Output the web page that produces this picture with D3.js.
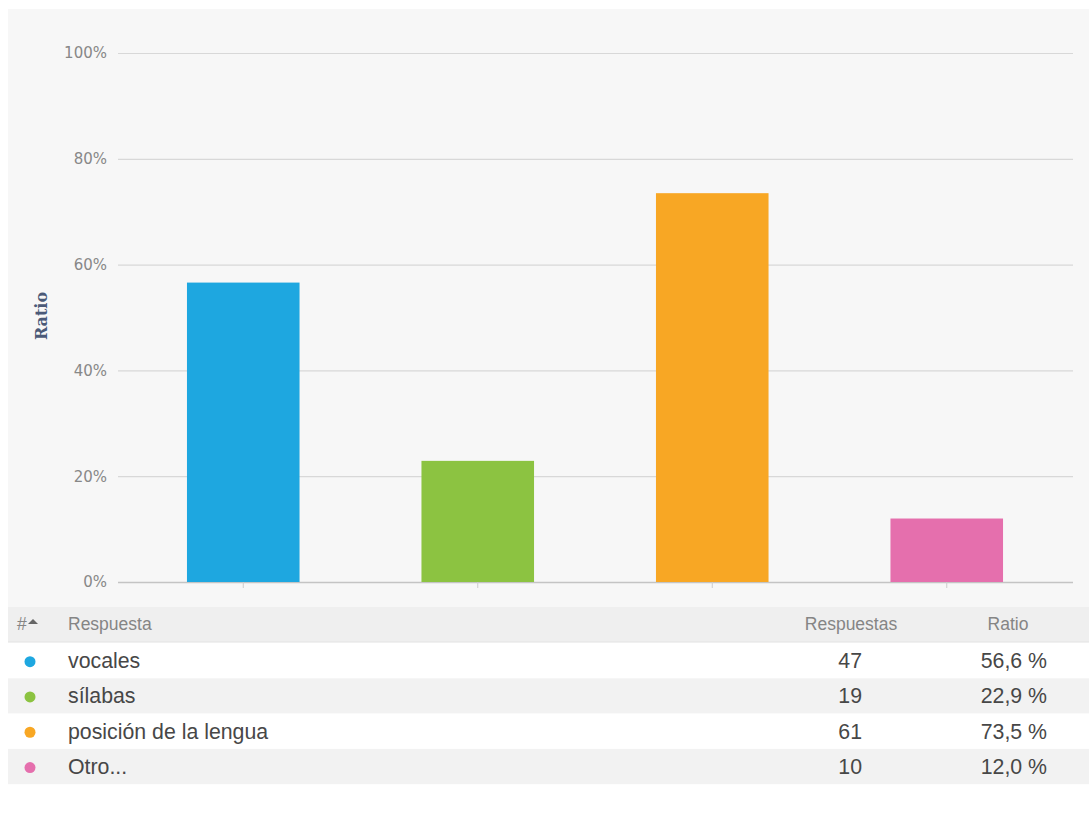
<!DOCTYPE html>
<html>
<head>
<meta charset="utf-8">
<script src="https://cdn.jsdelivr.net/npm/d3@7"></script>
<style>
  body { margin: 0; background: #fff; }
</style>
</head>
<body>
<svg id="chart"></svg>
<script>
const categories = ["vocales", "sílabas", "posición de la lengua", "Otro..."];
const ratios = [56.6, 22.9, 73.5, 12.0];
const counts = [47, 19, 61, 10];
const ratioLabels = ["56,6 %", "22,9 %", "73,5 %", "12,0 %"];
const colors = ["#1ea7e0", "#8cc341", "#f8a724", "#e56fad"];
const yTicks = [0, 20, 40, 60, 80, 100];

const width = 1089, height = 825;
const margin = {top: 53, bottom: 582, left: 118, right: 1073};

const svg = d3.select("#chart").attr("width", width).attr("height", height);

// chart background
svg.append("rect").attr("x", 8).attr("y", 9).attr("width", width - 8).attr("height", 598)
  .attr("fill", "#f7f7f7");

let y = d3.scaleLinear().domain([0, 100]).range([margin.bottom, margin.top]);

let x = d3.scaleBand()
  .domain(categories)
  .range([126, 1064])
  .paddingInner(0.52)
  .paddingOuter(0.26);

// grid + y labels
const yAxis = g => g
  .attr("transform", `translate(${margin.left},0)`)
  .call(d3.axisLeft(y).tickValues(yTicks).tickSize(-(margin.right - margin.left)).tickPadding(11).tickFormat(d => d + "%"))
  .call(g => g.select(".domain").remove())
  .call(g => g.selectAll(".tick line").attr("stroke", d => d === 0 ? "#c4c4c4" : "#d8d8d8").attr("stroke-width", d => d === 0 ? 1.5 : 1.2))
  .call(g => g.selectAll(".tick text").attr("fill", "#888").attr("font-size", 15).attr("font-family", "'DejaVu Sans', sans-serif"));

svg.append("g").call(yAxis);

// x ticks
const xAxis = g => g
  .attr("transform", `translate(0,${margin.bottom})`)
  .call(d3.axisBottom(x).tickSize(6).tickFormat(""))
  .call(g => g.select(".domain").remove())
  .call(g => g.selectAll(".tick line").attr("stroke", "#ccc"));

svg.append("g").call(xAxis);

svg.append("text")
  .attr("transform", `translate(47,316) rotate(-90)`)
  .attr("text-anchor", "middle")
  .attr("font-family", "'DejaVu Serif', serif")
  .attr("font-weight", "bold")
  .attr("font-size", 16)
  .attr("fill", "#4b5a78")
  .text("Ratio");

// bars
svg.selectAll(".bar")
  .data(categories)
  .enter().append("rect")
  .attr("class", "bar")
  .attr("x", d => x(d))
  .attr("y", (d, i) => y(ratios[i]))
  .attr("width", x.bandwidth())
  .attr("height", (d, i) => y(0) - y(ratios[i]))
  .attr("fill", (d, i) => colors[i]);

// table
const rowH = 35.3;
const tableTop = 607;
const font = "'Liberation Sans', Arial, sans-serif";

const header = svg.append("g");
header.append("rect").attr("x", 8).attr("y", tableTop).attr("width", width - 8).attr("height", 35)
  .attr("fill", "#efefef");
header.append("line").attr("x1", 8).attr("x2", width).attr("y1", tableTop + 35).attr("y2", tableTop + 35)
  .attr("stroke", "#e2e2e2");
const hy = tableTop + 23;
header.append("text").attr("x", 17).attr("y", hy).text("#");
header.append("path").attr("d", "M28,624 L33,619 L38,624 Z").attr("fill", "#666");
header.append("text").attr("x", 68).attr("y", hy).text("Respuesta");
header.append("text").attr("x", 851).attr("y", hy).attr("text-anchor", "middle").text("Respuestas");
header.append("text").attr("x", 1008).attr("y", hy).attr("text-anchor", "middle").text("Ratio");
header.selectAll("text").attr("fill", "#858585").attr("font-family", font).attr("font-size", 17.5);

const rows = svg.selectAll(".row")
  .data(categories)
  .enter().append("g")
  .attr("class", "row")
  .attr("transform", (d, i) => `translate(0,${tableTop + 36 + i * rowH})`);

rows.append("rect").attr("x", 8).attr("width", width - 8).attr("height", rowH)
  .attr("fill", (d, i) => i % 2 ? "#f2f2f2" : "#fff");
rows.append("circle").attr("cx", 30).attr("cy", rowH / 2 + 1).attr("r", 5.5)
  .attr("fill", (d, i) => colors[i]);
rows.append("text").attr("x", 68).attr("y", rowH / 2 + 7.5).text(d => d);
rows.append("text").attr("x", 862).attr("y", rowH / 2 + 7.5).attr("text-anchor", "end").text((d, i) => counts[i]);
rows.append("text").attr("x", 1047).attr("y", rowH / 2 + 7.5).attr("text-anchor", "end").text((d, i) => ratioLabels[i]);
rows.selectAll("text").attr("font-family", font).attr("font-size", 21.3).attr("fill", "#474747");
</script>
</body>
</html>
